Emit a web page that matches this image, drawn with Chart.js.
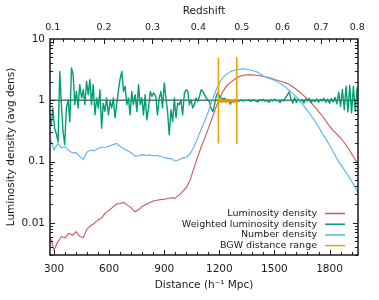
<!DOCTYPE html>
<html>
<head>
<meta charset="utf-8">
<script src="https://cdn.jsdelivr.net/npm/chart.js@4.4.1/dist/chart.umd.min.js"></script>
<style>
  html, body { margin: 0; padding: 0; background: #fff; }
</style>
</head>
<body>
<canvas id="chart" width="379" height="300"></canvas>
<script>
// distance grid (h^-1 Mpc) for the two smooth density curves
const rbDist = [280, 300, 320, 340, 360, 380, 400, 420, 440, 460, 480, 500, 520, 540, 560, 580, 600, 620, 640, 660,
  680, 700, 720, 740, 760, 780, 800, 820, 840, 860, 880, 900, 920, 940, 960, 980, 1000, 1020, 1040, 1060,
  1080, 1100, 1120, 1140, 1160, 1180, 1200, 1220, 1240, 1260, 1280, 1300, 1320, 1340, 1360, 1380, 1400, 1420, 1440, 1460,
  1480, 1500, 1520, 1540, 1560, 1580, 1600, 1620, 1640, 1660, 1680, 1700, 1720, 1740, 1760, 1780, 1800, 1820, 1840, 1860,
  1880, 1900, 1920, 1940, 1960];

const lumDensity = [0.0058, 0.0036, 0.0049, 0.0060, 0.0057, 0.0068, 0.0063, 0.0072, 0.0060, 0.0058,
  0.0080, 0.0090, 0.0099, 0.0112, 0.0122, 0.0146, 0.0162, 0.0180, 0.0203, 0.0208,
  0.0216, 0.0195, 0.0176, 0.0152, 0.0164, 0.0186, 0.0200, 0.0214, 0.0228, 0.0235,
  0.0240, 0.0243, 0.0250, 0.0258, 0.0254, 0.0285, 0.0327, 0.0375, 0.049, 0.076,
  0.115, 0.170, 0.240, 0.345, 0.50, 0.75, 1.07, 1.40, 1.72, 1.96,
  2.17, 2.37, 2.51, 2.58, 2.60, 2.60, 2.56, 2.51, 2.45, 2.38,
  2.30, 2.18, 2.10, 2.03, 1.94, 1.82, 1.66, 1.50, 1.34, 1.19,
  1.05, 0.91, 0.78, 0.66, 0.56, 0.46, 0.38, 0.32, 0.28, 0.245,
  0.205, 0.168, 0.135, 0.108, 0.090];

const numDensity = [0.235, 0.155, 0.198, 0.168, 0.176, 0.152, 0.139, 0.140, 0.122, 0.108,
  0.143, 0.154, 0.150, 0.165, 0.170, 0.172, 0.179, 0.188, 0.198, 0.178,
  0.162, 0.150, 0.140, 0.123, 0.125, 0.130, 0.126, 0.129, 0.125, 0.126,
  0.121, 0.117, 0.113, 0.111, 0.102, 0.107, 0.115, 0.118, 0.133, 0.170,
  0.235, 0.330, 0.455, 0.65, 0.98, 1.42, 1.90, 2.37, 2.70, 2.92,
  3.07, 3.18, 3.26, 3.25, 3.16, 3.06, 2.96, 2.74, 2.50, 2.36,
  2.25, 2.12, 1.98, 1.82, 1.64, 1.46, 1.30, 1.13, 0.96, 0.81,
  0.68, 0.56, 0.46, 0.37, 0.29, 0.235, 0.185, 0.145, 0.112, 0.090,
  0.074, 0.060, 0.048, 0.038, 0.029];

// weighted luminosity density is sampled more finely
const wDist = [276, 285, 294, 303, 313, 322, 331, 340, 349, 358, 367, 377, 386, 395, 404, 413, 422, 431, 440, 450,
  459, 468, 477, 486, 495, 504, 513, 523, 532, 541, 550, 559, 568, 577, 586, 596, 605, 614, 623, 632,
  641, 650, 659, 669, 678, 687, 696, 705, 714, 723, 732, 742, 751, 760, 769, 778, 787, 796, 805, 815,
  824, 833, 842, 854, 863, 873, 882, 891, 900, 909, 918, 927, 937, 946, 955, 964, 973, 982, 991, 1000,
  1010, 1019, 1028, 1037, 1046, 1055, 1064, 1073, 1082, 1092, 1101, 1110, 1119, 1128, 1137, 1146, 1155, 1165, 1174, 1183,
  1192, 1201, 1210, 1220, 1230, 1240, 1250, 1260, 1270, 1280, 1290, 1300, 1310, 1320, 1330, 1340, 1350, 1360, 1370, 1380,
  1390, 1400, 1410, 1420, 1430, 1440, 1450, 1460, 1470, 1480, 1490, 1500, 1510, 1520, 1530, 1540, 1550, 1560, 1570, 1580,
  1590, 1600, 1610, 1620, 1630, 1640, 1650, 1660, 1670, 1680, 1690, 1700, 1710, 1720, 1730, 1740, 1750, 1760, 1770, 1780,
  1790, 1800, 1810, 1820, 1830, 1840, 1850, 1860, 1870, 1880, 1890, 1900, 1910, 1920, 1930, 1940, 1950, 1960];

const wLumDensity = [0.58, 0.40, 0.75, 0.35, 0.28, 0.21, 2.97, 0.85, 0.31, 0.19,
  0.75, 1.02, 0.45, 3.37, 2.62, 0.85, 1.40, 0.75, 1.80, 1.09,
  1.49, 0.85, 2.04, 1.24, 2.17, 0.85, 1.80, 0.58, 1.09, 0.75,
  1.49, 0.35, 0.90, 0.66, 1.09, 0.58, 0.96, 0.75, 1.09, 0.52,
  0.85, 1.40, 2.17, 2.97, 1.40, 1.69, 0.85, 1.09, 0.58, 1.40,
  0.85, 1.24, 0.66, 1.80, 0.85, 1.09, 0.58, 1.24, 0.48, 0.75,
  1.40, 1.16, 1.32, 1.16, 0.58, 1.09, 1.40, 0.75, 1.92, 1.09,
  0.66, 0.275, 0.70, 0.45, 1.09, 0.52, 0.90, 0.85, 1.02, 0.58,
  1.32, 1.49, 1.40, 0.85, 1.02, 0.75, 0.85, 1.09, 0.96, 1.16,
  1.49, 1.40, 1.24, 1.09, 1.02, 0.96, 0.75, 0.66, 0.85, 1.16,
  1.32, 1.16, 1.10, 1.05, 1.08, 0.97, 1.02, 0.86, 1.00, 0.95,
  1.03, 0.96, 0.98, 1.02, 0.97, 1.01, 0.99, 1.03, 0.96, 1.00,
  1.02, 0.97, 0.94, 1.03, 0.98, 1.04, 0.96, 1.00, 0.93, 1.02,
  0.97, 1.04, 0.98, 1.01, 0.92, 1.03, 0.97, 1.10, 1.22, 1.38,
  1.05, 0.90, 1.10, 0.92, 1.06, 0.96, 1.03, 0.90, 1.05, 0.97,
  1.08, 0.92, 1.02, 0.95, 1.06, 0.93, 1.04, 0.98, 1.08, 0.92,
  1.05, 0.90, 1.07, 0.94, 1.12, 0.88, 1.35, 0.80, 1.50, 0.70,
  1.70, 0.65, 1.75, 0.62, 1.70, 0.66, 1.60, 0.75];

const bgwRange = [1195, 1295];
const bgwSpan = [0.2, 5];
const bgwLevel = 0.97;
const avgLevel = 1;

const distTicks = [300, 600, 900, 1200, 1500, 1800];
const zTicks = [0.1, 0.2, 0.3, 0.4, 0.5, 0.6, 0.7, 0.8];
const densTicks = [0.01, 0.1, 1, 10];

const seriesNames = ['Luminosity density', 'Weighted luminosity density', 'Number density', 'BGW distance range'];
const seriesColors = ['#d0555a', '#009e73', '#56b4e9', '#f0a30a'];

const X_MIN = 278, X_MAX = 1955, Y_MIN = 0.003, Y_MAX = 10;
const FONT = 'DejaVu Sans';
const INK = '#1a1a1a';

// comoving distance (h^-1 Mpc), flat LCDM with Om = 0.3, used for the redshift axis
function comoving(z) {
  const n = 200;
  let s = 0;
  for (let i = 0; i < n; i++) {
    const zz = (i + 0.5) * z / n;
    s += 1 / Math.sqrt(0.3 * Math.pow(1 + zz, 3) + 0.7);
  }
  return 2997.92 * s * z / n;
}

function pts(xs, ys) {
  return xs.map((x, i) => ({ x: x, y: ys[i] }));
}

// inward tick marks, frame and the in-plot legend
const frameAndTicks = {
  id: 'frameAndTicks',
  afterDatasetsDraw(chart) {
    const { ctx, chartArea: a, scales } = chart;
    const x = scales.x, y = scales.y;
    ctx.save();
    ctx.strokeStyle = INK;
    ctx.lineWidth = 1;
    ctx.beginPath();
    for (let v = 300; v < X_MAX; v += 60) {
      const px = Math.round(x.getPixelForValue(v)) + 0.5;
      const len = v % 300 === 0 ? 5 : 3;
      ctx.moveTo(px, a.bottom); ctx.lineTo(px, a.bottom - len);
    }
    for (let k = 5; k <= 40; k++) {
      const d = comoving(k * 0.02);
      if (d < X_MIN || d > X_MAX) continue;
      const px = Math.round(x.getPixelForValue(d)) + 0.5;
      const len = k % 5 === 0 ? 5 : 3;
      ctx.moveTo(px, a.top); ctx.lineTo(px, a.top + len);
    }
    for (let e = -3; e <= 0; e++) {
      for (let k = 1; k <= 9; k++) {
        const v = k * Math.pow(10, e);
        if (v < Y_MIN || v > Y_MAX) continue;
        const py = Math.round(y.getPixelForValue(v)) + 0.5;
        const len = k === 1 ? 5 : 3;
        ctx.moveTo(a.left, py); ctx.lineTo(a.left + len, py);
        ctx.moveTo(a.right, py); ctx.lineTo(a.right - len, py);
      }
    }
    ctx.stroke();

    ctx.lineWidth = 1.5;
    ctx.strokeRect(a.left, a.top, a.right - a.left, a.bottom - a.top);

    // legend
    ctx.font = '9.5px "' + FONT + '"';
    ctx.textAlign = 'right';
    ctx.textBaseline = 'middle';
    const rowY = 213.5, rowH = 10.7;
    seriesNames.forEach((name, i) => {
      const ly = rowY + i * rowH;
      ctx.fillStyle = INK;
      ctx.fillText(name, 317, ly);
      ctx.strokeStyle = seriesColors[i];
      ctx.lineWidth = 1.5;
      ctx.beginPath();
      ctx.moveTo(325, ly); ctx.lineTo(345, ly);
      ctx.stroke();
    });
    ctx.restore();
  }
};

const lineBase = { pointRadius: 0, tension: 0, borderJoinStyle: 'round', fill: false };

new Chart(document.getElementById('chart'), {
  type: 'line',
  data: {
    datasets: [
      Object.assign({}, lineBase, {
        label: seriesNames[3],
        data: [{ x: bgwRange[0], y: bgwSpan[0] }, { x: bgwRange[0], y: bgwSpan[1] },
               { x: (bgwRange[0] + bgwRange[1]) / 2, y: null },
               { x: bgwRange[1], y: bgwSpan[1] }, { x: bgwRange[1], y: bgwSpan[0] }],
        borderColor: seriesColors[3], borderWidth: 1.6, spanGaps: false
      }),
      Object.assign({}, lineBase, {
        label: 'BGW level',
        data: bgwRange.map(d => ({ x: d, y: bgwLevel })),
        borderColor: '#e09400', borderWidth: 3
      }),
      Object.assign({}, lineBase, {
        label: seriesNames[2], data: pts(rbDist, numDensity),
        borderColor: seriesColors[2], borderWidth: 1.1
      }),
      Object.assign({}, lineBase, {
        label: seriesNames[1], data: pts(wDist, wLumDensity),
        borderColor: seriesColors[1], borderWidth: 1.4
      }),
      Object.assign({}, lineBase, {
        label: seriesNames[0], data: pts(rbDist, lumDensity),
        borderColor: seriesColors[0], borderWidth: 1.1
      }),
      Object.assign({}, lineBase, {
        label: 'average', data: [{ x: X_MIN, y: avgLevel }, { x: X_MAX, y: avgLevel }],
        borderColor: '#6a6a6a', borderWidth: 1.5
      })
    ]
  },
  options: {
    responsive: false,
    animation: false,
    devicePixelRatio: 1,
    layout: { padding: { left: 0, right: 21, top: 0, bottom: 0 } },
    plugins: { legend: { display: false }, tooltip: { enabled: false } },
    scales: {
      x: {
        type: 'linear', position: 'bottom', min: X_MIN, max: X_MAX,
        afterFit: s => { s.height = 45; },
        afterBuildTicks: s => { s.ticks = distTicks.map(v => ({ value: v })); },
        grid: { display: false, drawTicks: false },
        border: { display: false },
        ticks: { color: INK, font: { family: FONT, size: 10.5 }, padding: 7.7, maxRotation: 0, autoSkip: false,
                 callback: v => String(v) },
        title: { display: true, text: 'Distance (h\u207B\u00B9 Mpc)', color: INK,
                 font: { family: FONT, size: 10.5 }, padding: { bottom: 8.7 } }
      },
      xTop: {
        type: 'linear', position: 'top', min: X_MIN, max: X_MAX,
        afterFit: s => { s.height = 39; },
        afterBuildTicks: s => { s.ticks = zTicks.map(z => ({ value: comoving(z) })); },
        grid: { display: false, drawTicks: false },
        border: { display: false },
        ticks: { color: INK, font: { family: FONT, size: 9.5 }, padding: 5.3, maxRotation: 0, autoSkip: false,
                 callback: (v, i) => zTicks[i].toFixed(1) },
        title: { display: true, text: 'Redshift', color: INK,
                 font: { family: FONT, size: 10.5 }, padding: { top: 4.7 } }
      },
      y: {
        type: 'logarithmic', position: 'left', min: Y_MIN, max: Y_MAX,
        afterFit: s => { s.width = 50; },
        afterBuildTicks: s => { s.ticks = densTicks.map(v => ({ value: v })); },
        grid: { display: false, drawTicks: false },
        border: { display: false },
        ticks: { color: INK, font: { family: FONT, size: 10.5 }, padding: 5, autoSkip: false,
                 callback: v => String(v) },
        title: { display: true, text: 'Luminosity density (avg dens)', color: INK,
                 font: { family: FONT, size: 10.5 }, padding: { top: 4.7 } }
      }
    }
  },
  plugins: [frameAndTicks]
});
</script>
</body>
</html>
